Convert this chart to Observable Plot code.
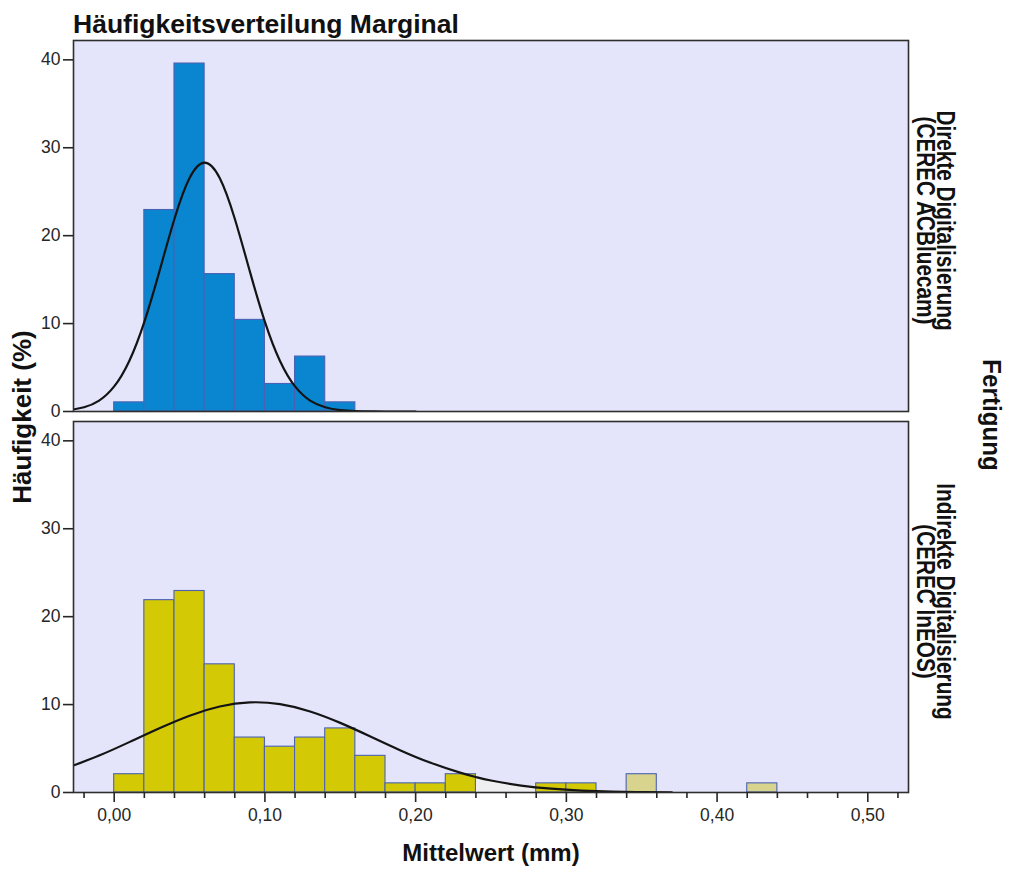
<!DOCTYPE html>
<html lang="de">
<head>
<meta charset="utf-8">
<script src="https://cdn.jsdelivr.net/npm/d3@7"></script>
<script src="https://cdn.jsdelivr.net/npm/@observablehq/plot@0.6"></script>
<style>
  html, body { margin: 0; padding: 0; background: #ffffff; }
  #chart { width: 1009px; height: 871px; }
</style>
</head>
<body>
<div id="chart"></div>
<script>
// Facets (Fertigung)
const facetKeys = ["direkt", "indirekt"];
const facetLabelLines = [
  ["Direkte Digitalisierung", "(CEREC ACBluecam)"],
  ["Indirekte Digitalisierung", "(CEREC InEOS)"]
];

// Histogram bins (lower edge, mm) and relative frequency (%)
const binWidth = 0.02;
const directBinLo = [0.00, 0.02, 0.04, 0.06, 0.08, 0.10, 0.12, 0.14];
const directPct   = [1.04, 22.92, 39.58, 15.63, 10.42, 3.13, 6.25, 1.04];
const indirectBinLo = [0.00, 0.02, 0.04, 0.06, 0.08, 0.10, 0.12, 0.14, 0.16, 0.18, 0.20, 0.22, 0.28, 0.30, 0.34, 0.42];
const indirectPct   = [2.08, 21.88, 22.92, 14.58, 6.25, 5.21, 6.25, 7.29, 4.17, 1.04, 1.04, 2.08, 1.04, 1.04, 2.08, 1.04];

// Normal curves, sampled
const directCurveX = [-0.03, -0.02, -0.01, 0.00, 0.01, 0.02, 0.03, 0.04, 0.05, 0.06, 0.07, 0.08, 0.09, 0.10, 0.11, 0.12, 0.13, 0.14, 0.15, 0.16, 0.17, 0.18, 0.20];
const directCurveY = [0.16, 0.48, 1.24, 2.85, 5.75, 10.2, 15.94, 21.93, 26.55, 28.3, 26.55, 21.93, 15.94, 10.2, 5.75, 2.85, 1.24, 0.48, 0.16, 0.05, 0.01, 0, 0];
const indirectCurveX = [-0.03, -0.01, 0.01, 0.03, 0.05, 0.07, 0.09, 0.11, 0.13, 0.15, 0.17, 0.19, 0.21, 0.23, 0.24, 0.25, 0.27, 0.29, 0.31, 0.33, 0.35, 0.37];
const indirectCurveY = [2.88, 4.20, 5.73, 7.31, 8.74, 9.78, 10.25, 10.05, 9.22, 7.92, 6.37, 4.79, 3.38, 2.23, 1.76, 1.37, 0.79, 0.43, 0.22, 0.10, 0.05, 0.02];

// Axis ticks
const xTicks = [0.0, 0.1, 0.2, 0.3, 0.4, 0.5];
const xMinorTicks = [-0.02, 0.02, 0.04, 0.06, 0.08, 0.12, 0.14, 0.16, 0.18, 0.22, 0.24, 0.26, 0.28, 0.32, 0.34, 0.36, 0.38, 0.42, 0.44, 0.46, 0.48, 0.52];
const yTicks = [0, 10, 20, 30, 40];

// Texts
const titleText = "Häufigkeitsverteilung Marginal";
const yTitle = "Häufigkeit (%)";
const xTitle = "Mittelwert (mm)";
const facetTitle = "Fertigung";

// Tables for the marks
const bars = [
  ...directBinLo.map((lo, i) => ({fy: facetKeys[0], x1: lo, x2: lo + binWidth, pct: directPct[i]})),
  ...indirectBinLo.map((lo, i) => ({fy: facetKeys[1], x1: lo, x2: lo + binWidth, pct: indirectPct[i]}))
];
const curves = [
  ...directCurveX.map((x, i) => ({fy: facetKeys[0], x, y: directCurveY[i]})),
  ...indirectCurveX.map((x, i) => ({fy: facetKeys[1], x, y: indirectCurveY[i]}))
];
const tailArea = curves.filter(d => d.fy === facetKeys[1] && d.x >= 0.24);

const commaFmt = d => d3.format(".2f")(d).replace(".", ",");

const blue = "#0986cf", yellow = "#d4c905", khaki = "#d9d48d";
const barFill = d => d.fy === facetKeys[0] ? blue : (d.x1 >= 0.33 ? khaki : yellow);

const chart = Plot.plot({
  width: 1009,
  height: 871,
  marginTop: 40,
  marginBottom: 78,
  marginLeft: 73,
  marginRight: 101,
  style: {fontFamily: "'Liberation Sans', Arial, sans-serif", fontSize: "17.5px", color: "#262626", background: "#ffffff", overflow: "visible"},
  x: {domain: [-0.027, 0.527], label: null},
  y: {domain: [0, 42.2], label: null},
  fy: {domain: facetKeys, padding: 0.0262, axis: null, label: null},
  marks: [
    Plot.frame({fill: "#e4e4fa"}),
    Plot.areaY(tailArea, {x: "x", y: "y", fy: "fy", fill: "#efeff2", curve: "natural"}),
    Plot.rectY(bars, {x1: "x1", x2: "x2", y: "pct", fy: "fy", fill: barFill, stroke: "#4a62b4", strokeWidth: 1.1}),
    Plot.line(curves, {x: "x", y: "y", fy: "fy", stroke: "#141414", strokeWidth: 2.2, curve: "natural", clip: true}),
    Plot.frame({stroke: "#2e2e2e", strokeWidth: 1.6}),
    Plot.axisY({ticks: yTicks, tickSize: 10, tickPadding: 3, label: null, strokeWidth: 1.6}),
    Plot.axisX({ticks: xMinorTicks, tickSize: 6, tickFormat: () => "", label: null, strokeWidth: 1.6}),
    Plot.axisX({ticks: xTicks, tickSize: 10, tickPadding: 6, tickFormat: commaFmt, label: null, strokeWidth: 1.6})
  ]
});

document.getElementById("chart").appendChild(chart);

// Titles and facet labels
const svg = d3.select(chart);
const fy = chart.scale("fy");
const font = "'Liberation Sans', Arial, sans-serif";

svg.append("text")
  .attr("x", 73).attr("y", 33)
  .attr("text-anchor", "start")
  .attr("font-family", font).attr("font-size", 26.5).attr("font-weight", "bold")
  .attr("fill", "#111")
  .text(titleText);

svg.append("text")
  .attr("transform", "translate(31,417) rotate(-90)")
  .attr("text-anchor", "middle")
  .attr("font-family", font).attr("font-size", 26).attr("font-weight", "bold")
  .attr("fill", "#111")
  .text(yTitle);

svg.append("text")
  .attr("x", 491).attr("y", 861)
  .attr("text-anchor", "middle")
  .attr("font-family", font).attr("font-size", 24).attr("font-weight", "bold")
  .attr("fill", "#111")
  .text(xTitle);

facetKeys.forEach((key, i) => {
  const cy = fy.apply(key) + fy.bandwidth / 2 - 5;
  facetLabelLines[i].forEach((line, j) => {
    const bx = j === 0 ? 937 : 917;
    svg.append("text")
      .attr("transform", `translate(${bx},${cy}) rotate(90) scale(0.83,1)`)
      .attr("text-anchor", "middle")
      .attr("font-family", font).attr("font-size", 25).attr("font-weight", "bold")
      .attr("fill", "#111")
      .text(line);
  });
});

svg.append("text")
  .attr("transform", "translate(983,415) rotate(90) scale(0.93,1)")
  .attr("text-anchor", "middle")
  .attr("font-family", font).attr("font-size", 26).attr("font-weight", "bold")
  .attr("fill", "#111")
  .text(facetTitle);
</script>
</body>
</html>
